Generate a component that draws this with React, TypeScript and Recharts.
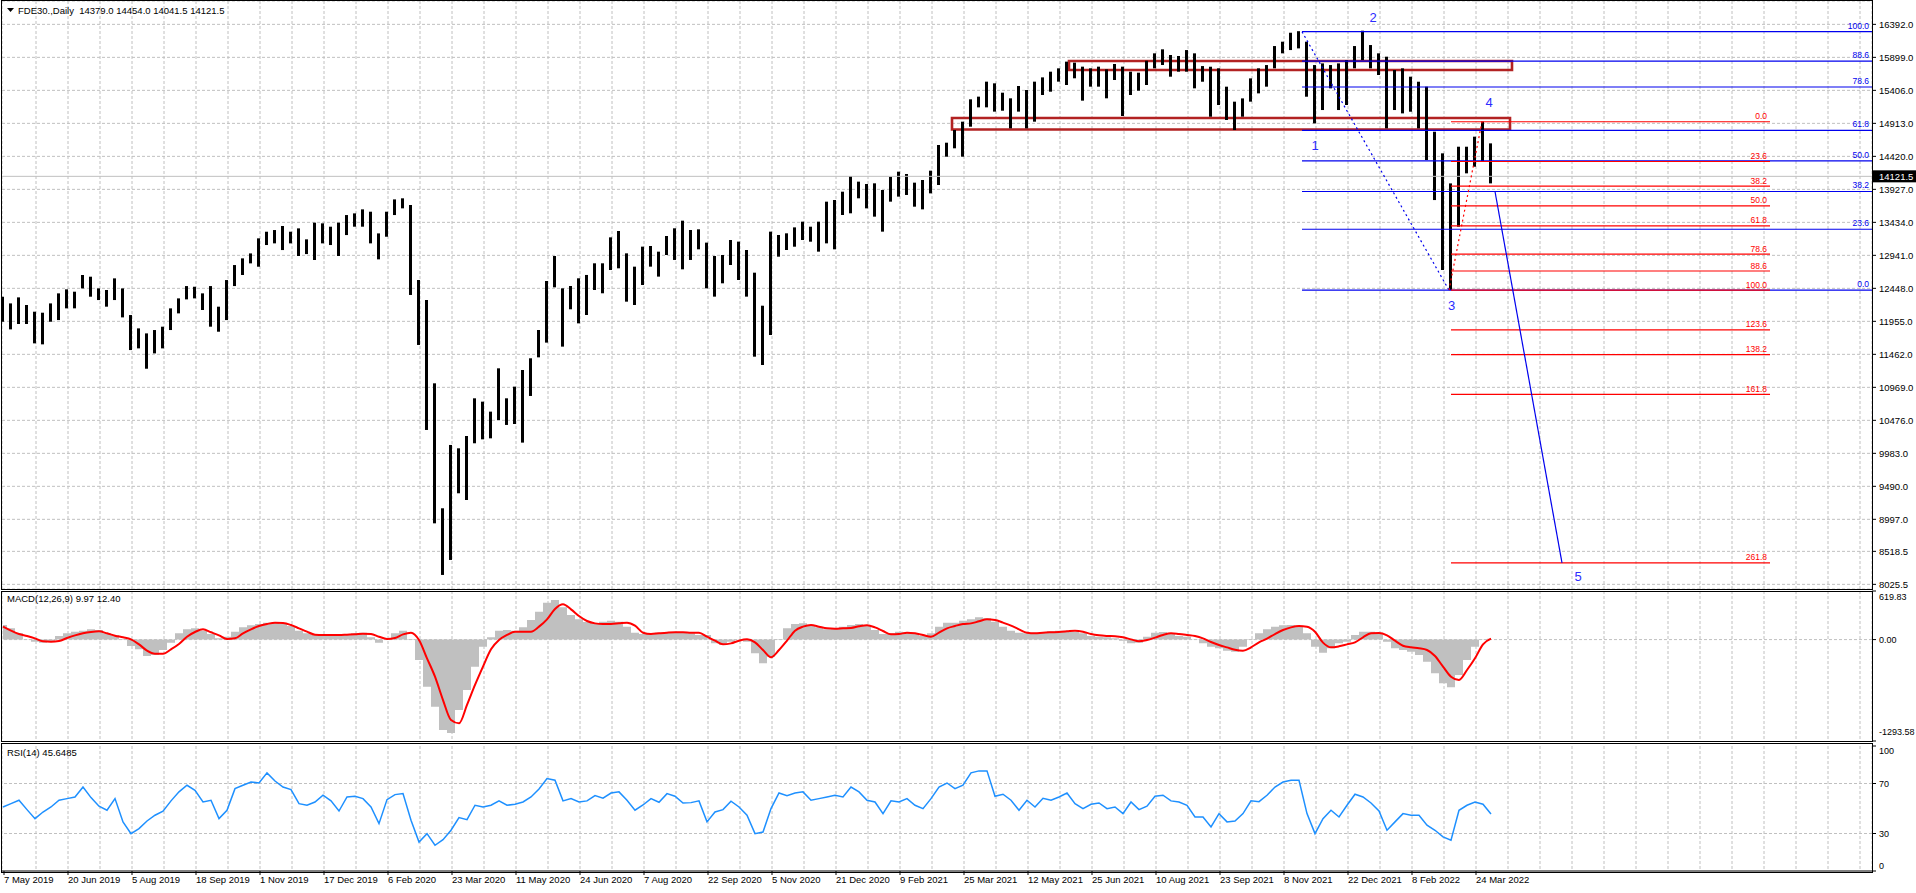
import React from 'react';
import {
  ComposedChart, Bar, Line, Area, XAxis, YAxis, CartesianGrid,
  ReferenceLine, ReferenceArea, ReferenceDot,
} from 'recharts';

// ---------- data (one point per 4 daily bars) ----------
const PRICE_HIGH = [
  12323, 12223, 12313, 12199, 12099, 12084, 12223, 12373, 12433, 12398,
  12647, 12622, 12447, 12423, 12597, 12447, 12049, 11850, 11775, 11825,
  11875, 12149, 12298, 12482, 12472, 12373, 12482, 12174, 12572, 12796,
  12896, 12970, 13195, 13294, 13319, 13379, 13294, 13344, 13180, 13429,
  13419, 13369, 13429, 13543, 13568, 13628, 13593, 13269, 13593, 13777,
  13793, 13693, 12573, 12274, 11029, 9162, 10108, 10058, 10242, 10805,
  10755, 10606, 11253, 10805, 10979, 11228, 11403, 11826, 12558, 12931,
  12448, 12483, 12598, 12648, 12822, 12822, 13210, 13305, 12971, 12772,
  13071, 13081, 12996, 13230, 13345, 13459, 13320, 13330, 13131, 12931,
  12946, 13170, 13146, 13021, 12682, 12189, 13295, 13245, 13270, 13359,
  13444, 13369, 13444, 13743, 13768, 13892, 14126, 14042, 14007, 14017,
  13917, 14116, 14191, 14156, 14027, 14067, 14206, 14590, 14624, 14814,
  14938, 15272, 15312, 15536, 15511, 15371, 15287, 15471, 15411, 15536,
  15600, 15685, 15735, 15835, 15820, 15760, 15735, 15760, 15720, 15800,
  15760, 15685, 15670, 15849, 15959, 16019, 15934, 15919, 16008, 15959,
  15769, 15759, 15735, 15461, 15237, 15286, 15585, 15735, 15784, 16068,
  16133, 16267, 16290, 16133, 15784, 15809, 15784, 15809, 15859, 16068,
  16297, 16083, 15959, 15909, 15710, 15735, 15610, 15535, 15461, 14788,
  14465, 14016, 14564, 14564, 14714, 14940, 14614,
];
const PRICE_LOW = [
  11949, 11835, 11915, 11915, 11626, 11611, 11949, 11974, 12149, 12149,
  12447, 12323, 12273, 12174, 12273, 12014, 11526, 11551, 11247, 11476,
  11551, 11825, 12074, 12283, 12298, 12124, 11875, 11800, 11974, 12482,
  12647, 12821, 12771, 13095, 13120, 13020, 13120, 12931, 12960, 12871,
  13120, 13095, 12931, 13244, 13369, 13369, 13120, 12881, 13219, 13543,
  13643, 12349, 11602, 10332, 8937, 8166, 8390, 9386, 9286, 10133,
  10192, 10207, 10481, 10407, 10421, 10143, 10840, 11417, 11637, 12463,
  11577, 12135, 11925, 12050, 12423, 12374, 12722, 12747, 12249, 12199,
  12498, 12772, 12623, 12946, 12872, 12732, 12872, 13031, 12448, 12324,
  12523, 12797, 12573, 12324, 11427, 11303, 11751, 12921, 13021, 13070,
  13170, 13145, 12996, 13120, 13031, 13544, 13569, 13793, 13643, 13519,
  13295, 13743, 13818, 13843, 13668, 13628, 13867, 13992, 14415, 14540,
  14415, 14863, 15152, 15152, 15088, 15102, 14838, 15088, 14838, 14938,
  15337, 15386, 15536, 15486, 15586, 15252, 15461, 15461, 15287, 15561,
  15023, 15337, 15401, 15486, 15735, 15785, 15610, 15685, 15685, 15436,
  15535, 15012, 15187, 14963, 14813, 15012, 15237, 15361, 15461, 15735,
  15959, 16008, 16033, 15311, 14913, 15112, 15436, 15112, 15187, 15735,
  15859, 15735, 15635, 14838, 15112, 15062, 15087, 14838, 14365, 13767,
  12722, 12420, 13369, 14166, 14265, 14340, 14016,
];
const MACD_MAIN = [
  186, 144, 80, 3, -27, -39, -27, 46, 80, 101,
  114, 131, 122, 80, 59, -5, -82, -124, -209, -197,
  -133, -39, 80, 131, 144, 114, 71, 16, 37, 101,
  156, 182, 199, 216, 216, 199, 173, 114, 80, 59,
  67, 67, 67, 67, 80, 88, 29, -39, 3, 80,
  114, -5, -260, -601, -856, -1153, -1190, -898, -643, -345,
  -90, 29, 114, 122, 114, 156, 250, 356, 471, 505,
  411, 314, 258, 224, 207, 229, 241, 229, 165, 88,
  71, 80, 88, 93, 93, 88, 80, 59, 59, -48,
  -69, -27, 3, -27, -175, -303, -218, -5, 144, 199,
  207, 186, 156, 131, 144, 165, 186, 199, 173, 122,
  71, 80, 101, 97, 80, 46, 80, 165, 216, 216,
  241, 258, 284, 271, 229, 165, 114, 88, 80, 88,
  97, 105, 114, 114, 97, 80, 46, 37, 29, 16,
  -14, -48, -39, 37, 88, 97, 80, 46, 37, 3,
  -48, -90, -112, -141, -154, -90, -5, 80, 131, 165,
  182, 186, 165, 80, -90, -167, -112, -48, -27, 59,
  101, 101, 71, -27, -112, -133, -154, -197, -282, -430,
  -558, -609, -452, -260, -90, 3, 10,
];
const MACD_SIGNAL = [
  165, 114, 71, 46, 16, -22, -27, -18, 20, 54,
  80, 97, 105, 80, 50, 29, 3, -61, -141, -180,
  -180, -124, -56, 37, 97, 131, 93, 54, 8, 16,
  80, 131, 173, 199, 216, 212, 186, 144, 101, 63,
  59, 59, 59, 63, 67, 76, 71, 37, 8, 20,
  67, 88, -5, -239, -473, -771, -1026, -1068, -834, -579,
  -345, -124, -5, 59, 101, 101, 101, 165, 258, 390,
  450, 386, 301, 237, 207, 199, 199, 207, 216, 178,
  88, 71, 80, 88, 93, 93, 88, 88, 37, -14,
  -61, -48, -14, 3, -35, -133, -226, -133, -14, 114,
  165, 186, 165, 144, 139, 144, 148, 169, 182, 156,
  110, 67, 71, 88, 80, 59, 37, 88, 144, 173,
  199, 207, 233, 258, 250, 216, 178, 131, 88, 80,
  88, 93, 97, 105, 114, 101, 71, 54, 46, 42,
  29, 3, -22, -5, 25, 59, 80, 71, 59, 46,
  16, -31, -69, -99, -129, -141, -99, -35, 12, 71,
  122, 156, 173, 165, 101, -39, -99, -86, -61, -35,
  29, 80, 84, 54, -14, -78, -99, -111, -133, -209,
  -345, -473, -515, -388, -239, -60, 12,
];
const RSI_VALUES = [
  51.2, 53.9, 56.6, 49.1, 41.9, 47.2, 51.2, 56.6, 57.9, 59.2,
  67.2, 58.7, 51.8, 48.6, 57.9, 39.3, 29.9, 33.9, 40.0, 44.6,
  47.8, 56.1, 63.3, 68.6, 64.6, 55.2, 56.6, 41.9, 48.6, 65.9,
  68.6, 71.2, 70.4, 78.5, 72.0, 67.2, 65.1, 53.9, 52.6, 55.2,
  60.6, 56.1, 48.0, 59.2, 59.8, 57.9, 51.2, 37.9, 57.1, 61.1,
  61.9, 40.6, 23.2, 29.9, 20.6, 25.1, 32.6, 42.7, 41.1, 52.6,
  51.2, 52.6, 56.1, 52.6, 53.4, 55.2, 59.2, 65.6, 73.9, 72.6,
  56.1, 57.9, 55.2, 56.1, 60.3, 58.2, 62.4, 63.3, 56.6, 48.6,
  52.8, 57.9, 55.0, 61.9, 59.8, 54.4, 54.7, 56.1, 39.3, 47.2,
  49.1, 55.8, 51.2, 44.6, 29.9, 31.2, 49.9, 62.4, 60.3, 62.4,
  63.3, 56.6, 57.9, 59.2, 60.6, 59.2, 67.2, 63.3, 56.6, 55.2,
  45.9, 56.1, 55.2, 57.9, 52.6, 49.9, 57.9, 67.2, 70.4, 65.9,
  68.6, 78.5, 80.1, 80.1, 59.8, 61.4, 56.6, 48.6, 56.6, 51.2,
  58.2, 56.6, 59.2, 62.4, 53.9, 49.9, 53.4, 54.4, 49.9, 51.2,
  45.9, 55.2, 49.1, 51.8, 59.8, 60.6, 56.1, 55.2, 52.6, 43.2,
  43.2, 35.2, 45.9, 39.3, 40.0, 45.9, 56.1, 55.5, 60.6, 67.2,
  71.2, 72.6, 72.6, 45.9, 29.9, 41.9, 48.6, 43.2, 52.6, 61.4,
  59.2, 54.4, 48.0, 32.6, 39.3, 45.9, 44.6, 44.6, 36.6, 32.6,
  27.3, 24.6, 48.6, 52.6, 55.2, 53.4, 45.6,
];
const BARS_PER_POINT = 4;

const DATE_LABELS = [
  '7 May 2019', '20 Jun 2019', '5 Aug 2019', '18 Sep 2019', '1 Nov 2019', '17 Dec 2019',
  '6 Feb 2020', '23 Mar 2020', '11 May 2020', '24 Jun 2020', '7 Aug 2020', '22 Sep 2020',
  '5 Nov 2020', '21 Dec 2020', '9 Feb 2021', '25 Mar 2021', '12 May 2021', '25 Jun 2021',
  '10 Aug 2021', '23 Sep 2021', '8 Nov 2021', '22 Dec 2021', '8 Feb 2022', '24 Mar 2022',
];
const DATE_BARS = [
  0, 32, 64, 96, 128, 160, 192, 224, 256, 288, 320, 352,
  384, 416, 448, 480, 512, 544, 576, 608, 640, 672, 704, 736,
];
const GRID_BARS = [
  16, 32, 48, 64, 80, 96, 112, 128, 144, 160, 176, 192, 208, 224, 240, 256, 272, 288, 304, 320,
  336, 352, 368, 384, 400, 416, 432, 448, 464, 480, 496, 512, 528, 544, 560, 576, 592, 608, 624,
  640, 656, 672, 688, 704, 720, 736, 752, 768, 784, 800, 816, 832, 848, 864, 880, 896, 912, 928,
];
const PRICE_TICKS = [
  16392, 15899, 15406, 14913, 14420, 13927, 13434, 12941, 12448, 11955,
  11462, 10969, 10476, 9983, 9490, 8997, 8518.5, 8025.5,
];
const MACD_TICKS = [619.83, 0, -1293.58];
const RSI_TICKS = [100, 70, 30, 0];
const LAST_PRICE = 14121.5;

const FIB_BLUE_LEVELS = ['100.0', '88.6', '78.6', '61.8', '50.0', '38.2', '23.6', '0.0'];
const FIB_BLUE_PRICES = [16282, 15842, 15456, 14807, 14351, 13895, 13331, 12420];
const FIB_BLUE_FROM = 649;
const FIB_BLUE_TO = 934;

const FIB_RED_LEVELS = ['0.0', '23.6', '38.2', '50.0', '61.8', '78.6', '88.6', '100.0', '123.6', '138.2', '161.8', '261.8'];
const FIB_RED_PRICES = [14937, 14343, 13976, 13679, 13382, 12959, 12707, 12420, 11826, 11459, 10864, 8347];
const FIB_RED_FROM = 723.5;
const FIB_RED_TO = 883;

const WAVE_LABELS = ['1', '2', '3', '4', '5'];
const WAVE_BARS = [655.5, 684.5, 723.8, 742.5, 787];
const WAVE_PRICES = [14589, 16497, 12199, 15221, 8150];

const ZONES = [
  { x1: 532.5, x2: 754, y1: 15710, y2: 15844 },
  { x1: 474, x2: 753, y1: 14821, y2: 14992 },
];

const DOTTED_BLUE = [{ x: 649, y: 16282 }, { x: 722.5, y: 12420 }];
const DOTTED_RED = [{ x: 722.5, y: 12420 }, { x: 739, y: 14937 }];
const PROJECTION = [{ x: 745.5, y: 13895 }, { x: 779, y: 8347 }];

// ---------- build table ----------
const data = PRICE_HIGH.map((h, i) => ({
  bar: i * BARS_PER_POINT - 0.5,
  range: [PRICE_LOW[i], h],
  macd: MACD_MAIN[i],
  signal: MACD_SIGNAL[i],
  rsi: RSI_VALUES[i],
}));

const FONT = '"Liberation Sans", Arial, sans-serif';
const X_DOMAIN: [number, number] = [-1, 934];
const W = 1916;
const GRID = '#c0c0c0';
const BLUE = '#0000ee';
const RED = '#ff0000';

const fibLabel = (text: string, color: string, lift: number) => (props: any) => {
  const vb = props.viewBox || {};
  const x = (vb.x ?? 0) + (vb.width ?? 0) - 3;
  const y = (vb.y ?? 0) - lift;
  return (
    <text x={x} y={y} textAnchor="end" fill={color} fontSize={8.5} fontFamily={FONT}>{text}</text>
  );
};

const priceBadge = (props: any) => {
  const vb = props.viewBox || {};
  const x = (vb.x ?? 0) + (vb.width ?? 0) + 1;
  const y = vb.y ?? 0;
  return (
    <g>
      <rect x={x} y={y - 6} width={44} height={12} fill="#000" />
      <text x={x + 6} y={y + 3.5} fill="#fff" fontSize={9.5} fontFamily={FONT}>{LAST_PRICE.toFixed(1)}</text>
    </g>
  );
};

const MacdTick = (props: any) => {
  const { x, y, payload } = props;
  const v = payload.value as number;
  const shift = v > 0 ? 6 : v < 0 ? -9 : 0;
  return (
    <text x={x} y={y + shift} dy="0.35em" textAnchor="start" fontSize={9} fontFamily={FONT} fill="#000">
      {v.toFixed(2)}
    </text>
  );
};

const RsiTick = (props: any) => {
  const { x, y, payload } = props;
  const v = payload.value as number;
  const shift = v === 100 ? 5 : v === 0 ? -5 : 0;
  return (
    <text x={x} y={y + shift} dy="0.35em" textAnchor="start" fontSize={9} fontFamily={FONT} fill="#000">
      {String(v)}
    </text>
  );
};

const DateTick = (props: any) => {
  const { x, y, payload } = props;
  const idx = DATE_BARS.indexOf(payload.value);
  return (
    <text x={x} y={y - 1} dy="0.71em" textAnchor="start" fontSize={9.5} fontFamily={FONT} fill="#000">
      {idx >= 0 ? DATE_LABELS[idx] : ''}
    </text>
  );
};

const frame = (top: number, height: number): React.CSSProperties => ({
  position: 'absolute', left: 1, top, width: 1872, height, border: '1px solid #000',
  boxSizing: 'border-box', pointerEvents: 'none',
});

const textStyle: React.CSSProperties = {
  position: 'absolute', fontFamily: FONT, fontSize: 9.5, color: '#000', whiteSpace: 'pre', lineHeight: '11px',
};

export default function App() {
  return (
    <div style={{ position: 'absolute', left: 0, top: 0, width: W, height: 893, background: '#fff', overflow: 'hidden' }}>
      {/* main price panel */}
      <div style={{ position: 'absolute', left: 0, top: 0 }}>
        <ComposedChart width={W} height={590} data={data} margin={{ top: 1, right: 0, bottom: 1, left: 2 }}>
          <CartesianGrid stroke={GRID} strokeDasharray="3 2" />
          <XAxis dataKey="bar" type="number" domain={X_DOMAIN} allowDataOverflow ticks={GRID_BARS} hide />
          <YAxis orientation="right" width={44} type="number" domain={[7956, 16741]} allowDataOverflow
            ticks={PRICE_TICKS} interval={0} tickSize={4} tickMargin={3} axisLine={false}
            tickLine={{ stroke: '#000' }} tickFormatter={(v: number) => v.toFixed(1)}
            tick={{ fontSize: 9.5, fontFamily: FONT, fill: '#000' }} />
          <ReferenceLine y={LAST_PRICE} stroke="#c0c0c0" strokeWidth={1} label={priceBadge} />
          <Bar dataKey="range" barSize={3} fill="#000" isAnimationActive={false} />
          {FIB_BLUE_PRICES.map((p, k) => (
            <ReferenceLine key={'b' + k} segment={[{ x: FIB_BLUE_FROM, y: p }, { x: FIB_BLUE_TO, y: p }]}
              stroke={BLUE} strokeWidth={1.2} label={fibLabel(FIB_BLUE_LEVELS[k], BLUE, 3)} />
          ))}
          {FIB_RED_PRICES.map((p, k) => (
            <ReferenceLine key={'r' + k} segment={[{ x: FIB_RED_FROM, y: p }, { x: FIB_RED_TO, y: p }]}
              stroke={RED} strokeWidth={1.2} label={fibLabel(FIB_RED_LEVELS[k], RED, 2.5)} />
          ))}
          {ZONES.map((z, k) => (
            <ReferenceArea key={'z' + k} x1={z.x1} x2={z.x2} y1={z.y1} y2={z.y2}
              fill="none" fillOpacity={0} stroke="#b22222" strokeWidth={2.6} />
          ))}
          <ReferenceLine segment={DOTTED_BLUE} stroke={BLUE} strokeWidth={1.2} strokeDasharray="2 3" />
          <ReferenceLine segment={DOTTED_RED} stroke={RED} strokeWidth={1.2} strokeDasharray="2 3" />
          <ReferenceLine segment={PROJECTION} stroke={BLUE} strokeWidth={1.2} />
          {WAVE_LABELS.map((t, k) => (
            <ReferenceDot key={'w' + k} x={WAVE_BARS[k]} y={WAVE_PRICES[k]} r={1} fill="none" stroke="none"
              label={{ value: t, position: 'center', fill: '#2b2bff', fontSize: 13, fontFamily: FONT }} />
          ))}
        </ComposedChart>
      </div>

      {/* MACD panel */}
      <div style={{ position: 'absolute', left: 0, top: 590 }}>
        <ComposedChart width={W} height={152} data={data} margin={{ top: 1, right: 0, bottom: 1, left: 2 }}>
          <CartesianGrid stroke={GRID} strokeDasharray="3 2" horizontal={false} />
          <XAxis dataKey="bar" type="number" domain={X_DOMAIN} allowDataOverflow ticks={GRID_BARS} hide />
          <YAxis orientation="right" width={44} type="number" domain={[-1293.58, 619.83]} allowDataOverflow
            ticks={MACD_TICKS} interval={0} tickSize={4} tickMargin={3} axisLine={false}
            tickLine={{ stroke: '#000' }} tick={<MacdTick />} />
          <ReferenceLine y={0} stroke={GRID} strokeDasharray="3 2" />
          <Area dataKey="macd" type="step" baseValue={0} stroke="none" fill="#c0c0c0" fillOpacity={1}
            isAnimationActive={false} />
          <Line dataKey="signal" type="monotone" stroke={RED} strokeWidth={2} dot={false} isAnimationActive={false} />
        </ComposedChart>
      </div>

      {/* RSI panel */}
      <div style={{ position: 'absolute', left: 0, top: 742 }}>
        <ComposedChart width={W} height={151} data={data} margin={{ top: 4, right: 0, bottom: 0, left: 2 }}>
          <XAxis xAxisId="grid" dataKey="bar" type="number" domain={X_DOMAIN} allowDataOverflow ticks={GRID_BARS} hide />
          <CartesianGrid xAxisId="grid" stroke={GRID} strokeDasharray="3 2" horizontal={false} />
          <XAxis dataKey="bar" type="number" domain={X_DOMAIN} allowDataOverflow ticks={DATE_BARS} interval={0}
            height={22} tickSize={4} tickMargin={2} axisLine={{ stroke: '#000' }} tickLine={{ stroke: '#000' }}
            tick={<DateTick />} />
          <YAxis orientation="right" width={44} type="number" domain={[0, 100]} allowDataOverflow
            ticks={RSI_TICKS} interval={0} tickSize={4} tickMargin={3} axisLine={false}
            tickLine={{ stroke: '#000' }} tick={<RsiTick />} />
          <ReferenceLine y={70} stroke={GRID} strokeDasharray="3 2" />
          <ReferenceLine y={30} stroke={GRID} strokeDasharray="3 2" />
          <Line dataKey="rsi" type="linear" stroke="#1e90ff" strokeWidth={1.5} dot={false} isAnimationActive={false} />
        </ComposedChart>
      </div>

      {/* panel frames */}
      <div style={frame(0, 590)} />
      <div style={frame(591, 151)} />
      <div style={frame(743, 130)} />

      {/* panel captions */}
      <svg style={{ position: 'absolute', left: 7, top: 8 }} width={7} height={5}>
        <polygon points="0,0 7,0 3.5,4" fill="#000" />
      </svg>
      <div style={{ ...textStyle, left: 18, top: 5 }}>FDE30.,Daily  14379.0 14454.0 14041.5 14121.5</div>
      <div style={{ ...textStyle, left: 7, top: 593 }}>MACD(12,26,9) 9.97 12.40</div>
      <div style={{ ...textStyle, left: 7, top: 747 }}>RSI(14) 45.6485</div>
    </div>
  );
}
